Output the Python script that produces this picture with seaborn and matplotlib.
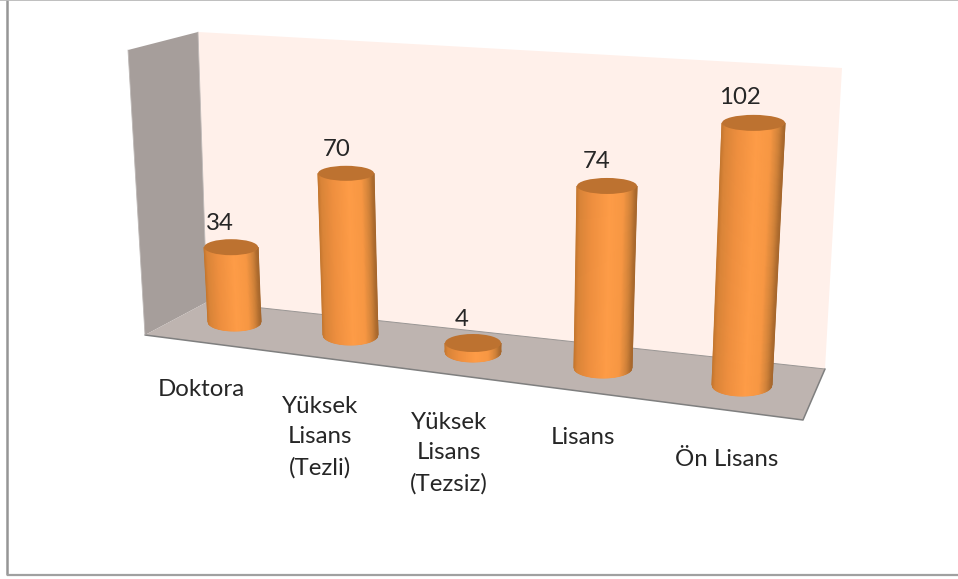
import numpy as np
import pandas as pd
import matplotlib
matplotlib.use("Agg")
import matplotlib.pyplot as plt
from matplotlib.colors import LinearSegmentedColormap
from matplotlib.patches import Polygon, Ellipse
from matplotlib.transforms import Affine2D
import seaborn as sns

# ---- data ----
categories = ["Doktora", "Yüksek\nLisans\n(Tezli)", "Yüksek\nLisans\n(Tezsiz)", "Lisans", "Ön Lisans"]
values = [34, 70, 4, 74, 102]

# ---- perspective layout (pixel space, per category) ----
base_x = [234.5, 350.5, 473, 603, 742]
base_y = [322, 335, 352, 368, 385]
px_per_unit = [2.2, 2.31, 2.25, 2.46, 2.57]
lean_per_unit = [-0.10, -0.064, 0.0, 0.054, 0.113]
width_bottom = [53, 55, 56, 58, 60]
width_top = [54, 56, 56, 60, 63]
ry_bottom = [9, 10, 10, 10, 11]
ry_top = [8, 7.5, 9, 8, 8]
label_pos = [(201.5, 389), (320, 437), (449, 453), (583, 438), (727, 459)]
value_pos = [(220, 223), (337, 149), (462, 320), (597, 161), (740, 98)]

W, H = 958, 579
FONT = "Lato"
FS = 17.3

sns.set_theme(style="white")
plt.rcParams["font.family"] = [FONT, "DejaVu Sans"]

fig = plt.figure(figsize=(W / 100, H / 100), dpi=100, facecolor="white")


def pixel_axes(z):
    a = fig.add_axes([0, 0, 1, 1], zorder=z)
    a.set_xlim(0, W)
    a.set_ylim(H, 0)
    a.axis("off")
    return a


ax_bg = pixel_axes(0)

# walls and floor
ax_bg.add_patch(Polygon([(198, 32), (842, 68), (825, 369), (207, 302)], fc="#FFF0EA", ec="none"))
ax_bg.add_patch(Polygon([(128, 50), (198, 32), (207, 302), (145, 335)], fc="#A69E9B", ec="none"))
ax_bg.add_patch(Polygon([(145, 335), (207, 302), (825, 369), (803, 420)], fc="#BEB4B0", ec="none"))
ax_bg.plot([145, 803, 825], [335, 420, 369], color="#7F7F7F", lw=1.1, solid_capstyle="round")
ax_bg.plot([207, 825], [302, 369], color="#9A9694", lw=0.7)
ax_bg.plot([128, 145], [50, 335], color="#BDB8B6", lw=0.6)
ax_bg.plot([198, 207], [32, 302], color="#C0BAB8", lw=0.6)

# outer frame
ax_bg.plot([7.5, 7.5], [0, 575], color="#969696", lw=1.8, solid_capstyle="butt")
ax_bg.plot([7, W], [575, 575], color="#A0A0A0", lw=1.6, solid_capstyle="butt")
ax_bg.plot([0, W], [0.3, 0.3], color="#B4B4B4", lw=1.2, solid_capstyle="butt")

# bars through seaborn, then mapped into the perspective plane
df = pd.DataFrame({"category": categories, "value": values})
ax_bars = fig.add_axes([0, 0, 1, 1], zorder=1)
ax_bars.patch.set_alpha(0)
sns.barplot(data=df, x="category", y="value", order=categories, color="#E8893C",
            saturation=1, width=0.8, ax=ax_bars)
ax_bars.set_ylim(0, 110)
ax_bars.axis("off")

ax_fg = pixel_axes(2)
ax_fg.patch.set_alpha(0)

cmap = LinearSegmentedColormap.from_list(
    "cyl",
    [(0.0, "#C4772F"), (0.05, "#D98438"), (0.25, "#EE8F3F"), (0.55, "#FE9C47"),
     (0.78, "#F79743"), (0.9, "#D3843A"), (1.0, "#A5662C")],
)

for i, (patch, v) in enumerate(zip(ax_bars.patches, values)):
    h = patch.get_height()
    wb, wt = width_bottom[i], width_top[i]
    cx0, cy0 = base_x[i], base_y[i]
    lean, unit = lean_per_unit[i], px_per_unit[i]
    cx1, cy1 = cx0 + lean * h, cy0 - unit * h
    # flat bar as the underlying mark
    mid = patch.get_x() + patch.get_width() / 2
    sx = 0.96 * min(wb, wt) / patch.get_width()
    m = Affine2D.from_values(sx, 0, lean, -unit, cx0 - mid * sx, cy0)
    patch.set_transform(m + ax_fg.transData)
    patch.set_clip_on(False)
    patch.set_zorder(1)
    # shaded cylinder body
    u = np.linspace(-1, 1, 61)
    arc = np.sqrt(1 - u ** 2)
    xb = cx0 + u * wb / 2
    yb = cy0 + ry_bottom[i] * arc
    xt = cx1 + u * wt / 2
    yt = cy1 + ry_top[i] * arc
    X = np.vstack([xb, xt])
    Y = np.vstack([yb, yt])
    C = np.vstack([u, u])
    ax_fg.pcolormesh(X, Y, C, cmap=cmap, shading="gouraud", vmin=-1, vmax=1, zorder=2)
    # top cap
    ax_fg.add_patch(Ellipse((cx1, cy1), wt, 2 * ry_top[i], fc="#BD7230", ec="none", zorder=3))

ax_fg.set_xlim(0, W)
ax_fg.set_ylim(H, 0)

# texts
for name, (x, y) in zip(categories, label_pos):
    ax_fg.text(x, y, name, ha="center", va="center", fontsize=FS, color="#262626",
               linespacing=1.56, family=FONT)
for v, (x, y) in zip(values, value_pos):
    ax_fg.text(x, y, str(v), ha="center", va="center", fontsize=FS, color="#262626", family=FONT)

fig.savefig("out.png", dpi=100)
